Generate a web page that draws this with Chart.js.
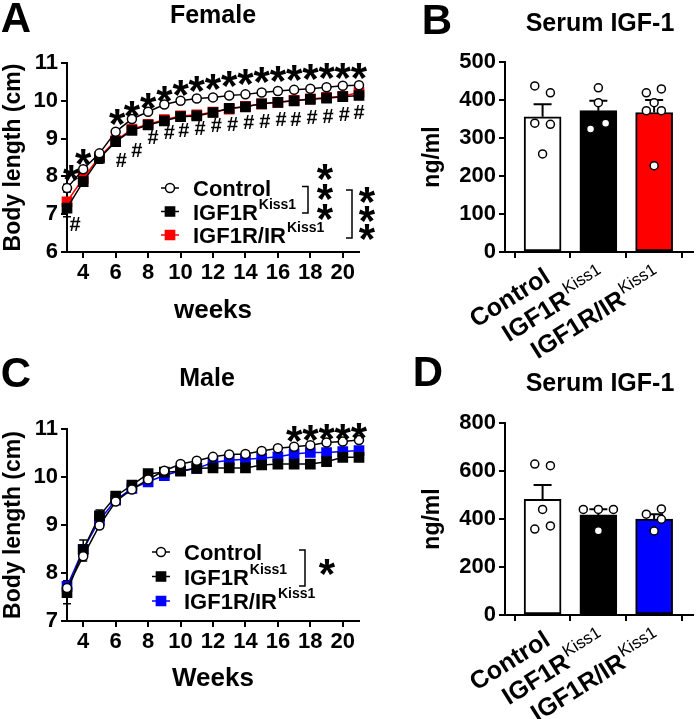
<!DOCTYPE html>
<html>
<head>
<meta charset="utf-8">
<script src="https://cdn.jsdelivr.net/npm/chart.js@4.4.1/dist/chart.umd.min.js"></script>
<style>
  html, body { margin: 0; padding: 0; background: #fff; }
  #page { position: relative; width: 698px; height: 719px; overflow: hidden;
          font-family: 'Liberation Sans', Arial, sans-serif; }
  canvas { position: absolute; left: 0; top: 0; }
  .lbl { position: absolute; font-weight: bold; line-height: 1; white-space: nowrap;
         transform: translate(-50%, -50%); color: #000; }
</style>
</head>
<body>
<div id="page">
  <canvas id="chartA" width="698" height="719"></canvas>
  <canvas id="chartB" width="698" height="719"></canvas>
  <canvas id="chartC" width="698" height="719"></canvas>
  <canvas id="chartD" width="698" height="719"></canvas>

  <div class="lbl" style="left:16px;top:18px;font-size:42px">A</div>
  <div class="lbl" style="left:213px;top:14px;font-size:25px">Female</div>
  <div class="lbl" style="left:437px;top:20px;font-size:42px">B</div>
  <div class="lbl" style="left:600px;top:22px;font-size:25px">Serum IGF-1</div>
  <div class="lbl" style="left:16px;top:373px;font-size:42px">C</div>
  <div class="lbl" style="left:207px;top:377px;font-size:25px">Male</div>
  <div class="lbl" style="left:428px;top:372px;font-size:42px">D</div>
  <div class="lbl" style="left:600px;top:382px;font-size:25px">Serum IGF-1</div>
</div>
<script>
const FONT = "'Liberation Sans', Arial, Helvetica, sans-serif";
Chart.defaults.font.family = FONT;
Chart.defaults.color = '#000';

const weeks     = [3, 4, 5, 6, 7, 8, 9, 10, 11, 12, 13, 14, 15, 16, 17, 18, 19, 20, 21];
const weekTicks = [4, 6, 8, 10, 12, 14, 16, 18, 20];

// A - female body length (cm)
const femaleControl    = [7.69, 8.19, 8.61, 9.18, 9.52, 9.71, 9.90, 10.00, 10.06, 10.09, 10.14, 10.17, 10.22, 10.26, 10.29, 10.32, 10.36, 10.40, 10.41];
const femaleIgf1r      = [7.16, 7.86, 8.48, 8.92, 9.22, 9.36, 9.47, 9.58, 9.60, 9.69, 9.80, 9.84, 9.92, 9.96, 10.00, 10.04, 10.07, 10.11, 10.14];
const femaleIgf1rIr    = [7.33, 7.95, 8.52, 8.95, 9.25, 9.38, 9.50, 9.60, 9.63, 9.70, 9.78, 9.85, 9.92, 9.96, 10.01, 10.05, 10.09, 10.12, 10.22];
const femaleControlSem = [0.10, 0.06, 0.05, 0.05, 0.05, 0.04, 0.04, 0.04, 0.04, 0.04, 0.04, 0.04, 0.04, 0.04, 0.04, 0.04, 0.04, 0.04, 0.04];
const femaleIgf1rSem   = [0.23, 0.12, 0.13, 0.08, 0.07, 0.05, 0.05, 0.05, 0.05, 0.05, 0.05, 0.05, 0.05, 0.05, 0.05, 0.05, 0.05, 0.05, 0.05];
const femaleIgf1rIrSem = [0.10, 0.10, 0.08, 0.06, 0.05, 0.05, 0.05, 0.05, 0.05, 0.05, 0.05, 0.05, 0.05, 0.05, 0.05, 0.05, 0.05, 0.05, 0.05];
const femaleStarWeeks  = [3.25, 4, 6.1, 7, 8, 9, 10, 11, 12, 13, 14, 15, 16, 17, 18, 19, 20, 21];
const femaleStarY      = [8.15, 8.57, 9.62, 9.84, 10.05, 10.24, 10.39, 10.50, 10.55, 10.63, 10.68, 10.73, 10.76, 10.79, 10.81, 10.84, 10.84, 10.84];
const femaleHashWeeks  = [3.5, 6.35, 7.3, 8.3, 9.3, 10.2, 11.2, 12.2, 13.2, 14.2, 15.2, 16.2, 17.1, 18.1, 19.1, 20.1, 21.0];
const femaleHashY      = [6.71, 8.39, 8.65, 9.00, 9.14, 9.18, 9.23, 9.31, 9.36, 9.40, 9.42, 9.47, 9.49, 9.54, 9.56, 9.60, 9.67];

// C - male body length (cm)
const maleControl    = [7.69, 8.35, 8.99, 9.49, 9.74, 9.95, 10.13, 10.27, 10.34, 10.42, 10.47, 10.48, 10.54, 10.60, 10.63, 10.66, 10.72, 10.74, 10.77];
const maleIgf1r      = [7.59, 8.49, 9.19, 9.60, 9.83, 10.07, 10.10, 10.12, 10.18, 10.19, 10.19, 10.19, 10.25, 10.27, 10.27, 10.27, 10.32, 10.41, 10.41];
const maleIgf1rIr    = [7.72, 8.49, 9.10, 9.52, 9.76, 9.90, 10.03, 10.13, 10.18, 10.30, 10.35, 10.37, 10.39, 10.42, 10.48, 10.51, 10.51, 10.53, 10.55];
const maleControlSem = [0.15, 0.10, 0.06, 0.05, 0.05, 0.04, 0.04, 0.04, 0.04, 0.04, 0.04, 0.04, 0.04, 0.04, 0.04, 0.04, 0.04, 0.04, 0.04];
const maleIgf1rSem   = [0.23, 0.20, 0.12, 0.06, 0.08, 0.06, 0.05, 0.05, 0.05, 0.05, 0.05, 0.05, 0.05, 0.05, 0.05, 0.05, 0.05, 0.05, 0.05];
const maleIgf1rIrSem = [0.10, 0.10, 0.07, 0.05, 0.05, 0.04, 0.04, 0.04, 0.04, 0.04, 0.04, 0.04, 0.04, 0.04, 0.04, 0.04, 0.04, 0.04, 0.04];
const maleStarWeeks  = [17, 18, 19, 20, 21];
const maleStarY      = [10.94, 10.97, 10.98, 10.99, 11.00];

// B, D - serum IGF-1 (ng/ml)
const groups   = ['Control', 'IGF1R', 'IGF1R/IR'];
const groupSup = ['', 'Kiss1', 'Kiss1'];
const femaleSerumMean   = [356, 372, 367];
const femaleSerumSem    = [33, 26, 33];
const femaleSerumPoints = [[437, 419, 339, 336, 258], [432, 393, 324, 339], [419, 429, 393, 372, 372, 227]];
const femaleSerumJitter = [[-0.14, 0.14, -0.14, 0.14, 0], [0, 0, -0.14, 0.13], [-0.14, 0.13, 0, -0.14, 0.13, 0]];
const maleSerumMean     = [482, 417, 400];
const maleSerumSem      = [60, 24, 20];
const maleSerumPoints   = [[629, 622, 440, 358, 371], [440, 440, 440, 351], [420, 442, 399, 350]];
const maleSerumJitter   = [[-0.14, 0.14, 0, -0.14, 0.14], [-0.27, 0, 0.27, 0], [-0.14, 0.13, 0.13, 0]];

const RED = '#ff0000';
const BLUE = '#0000ff';

function drawStar(ctx, x, y, size) {
  ctx.font = `bold ${size}px ${FONT}`;
  ctx.textAlign = 'center';
  ctx.textBaseline = 'alphabetic';
  ctx.fillText('*', x, y + size * 0.55);
}

function drawMarker(ctx, style, x, y, color, fill) {
  ctx.lineWidth = 1.5;
  ctx.strokeStyle = color;
  ctx.fillStyle = fill;
  ctx.beginPath();
  if (style === 'circle') ctx.arc(x, y, 4.5, 0, Math.PI * 2);
  else ctx.rect(x - 4.6, y - 4.6, 9.2, 9.2);
  ctx.fill();
  ctx.stroke();
}

function drawLegend(ctx, x0, y0, gap, items) {
  items.forEach((it, i) => {
    const y = y0 + i * gap;
    ctx.strokeStyle = it.color;
    ctx.lineWidth = 1.5;
    ctx.beginPath(); ctx.moveTo(x0 - 9, y); ctx.lineTo(x0 + 9, y); ctx.stroke();
    drawMarker(ctx, it.style, x0, y, it.color, it.fill);
    ctx.fillStyle = '#000';
    ctx.textAlign = 'left';
    ctx.textBaseline = 'alphabetic';
    ctx.font = `bold 22px ${FONT}`;
    ctx.fillText(it.label, x0 + 23, y + 8);
    if (it.sup) {
      const w = ctx.measureText(it.label).width;
      ctx.font = `bold 14px ${FONT}`;
      ctx.fillText(it.sup, x0 + 24 + w, y - 3);
    }
  });
}

function drawBracket(ctx, x, y1, y2) {
  ctx.strokeStyle = '#000';
  ctx.lineWidth = 1.5;
  ctx.beginPath();
  ctx.moveTo(x - 6, y1); ctx.lineTo(x, y1); ctx.lineTo(x, y2); ctx.lineTo(x - 6, y2);
  ctx.stroke();
}

function growthSet(label, vals, style, color, fill, order) {
  return {
    label,
    data: weeks.map((w, i) => ({ x: w, y: vals[i] })),
    borderColor: color,
    borderWidth: 1.5,
    pointStyle: style,
    pointRadius: style === 'circle' ? 4.5 : 6.5,
    pointBackgroundColor: fill,
    pointBorderColor: color,
    pointBorderWidth: 1.5,
    tension: 0,
    clip: false,
    order,
  };
}

function growthOptions(yMin, yMax, xTitle, pad, xHeight) {
  const grid = { drawOnChartArea: false, drawTicks: true, tickLength: 6, lineWidth: 2, color: '#000' };
  const border = { color: '#000', width: 2 };
  return {
    responsive: false,
    animation: false,
    layout: { padding: pad },
    plugins: { legend: { display: false }, tooltip: { enabled: false } },
    scales: {
      x: {
        type: 'linear', min: 3, max: 21,
        afterBuildTicks: (s) => { s.ticks = weekTicks.map(v => ({ value: v })); },
        afterFit: (s) => { s.height = xHeight; },
        grid, border,
        ticks: { font: { size: 22, weight: 'bold' }, padding: 2, maxRotation: 0, autoSkip: false },
        title: { display: true, text: xTitle, font: { size: 26, weight: 'bold' }, padding: 0 },
      },
      y: {
        min: yMin, max: yMax,
        afterFit: (s) => { s.width = 67; },
        grid, border,
        ticks: { stepSize: 1, font: { size: 22, weight: 'bold' }, padding: 3 },
        title: { display: true, text: 'Body length (cm)', font: { size: 23, weight: 'bold' }, padding: 0 },
      },
    },
  };
}

// error bars, significance marks, legend and brackets for the growth panels
function growthExtras(conf) {
  return {
    id: 'growthExtras',
    beforeDatasetsDraw(chart) {
      const { ctx } = chart;
      const xs = chart.scales.x, ys = chart.scales.y;
      ctx.save();
      conf.sems.forEach((sem, d) => {
        const ds = chart.data.datasets[d];
        ctx.strokeStyle = ds.borderColor;
        ctx.lineWidth = 1.5;
        ds.data.forEach((p, i) => {
          const x = xs.getPixelForValue(p.x);
          const y1 = ys.getPixelForValue(p.y - sem[i]);
          const y2 = ys.getPixelForValue(p.y + sem[i]);
          ctx.beginPath();
          ctx.moveTo(x, y1); ctx.lineTo(x, y2);
          ctx.moveTo(x - 4, y1); ctx.lineTo(x + 4, y1);
          ctx.moveTo(x - 4, y2); ctx.lineTo(x + 4, y2);
          ctx.stroke();
        });
      });
      ctx.restore();
    },
    afterDatasetsDraw(chart) {
      const { ctx, chartArea } = chart;
      const xs = chart.scales.x, ys = chart.scales.y;
      ctx.save();
      ctx.fillStyle = '#000';
      conf.starWeeks.forEach((w, i) => drawStar(ctx, xs.getPixelForValue(w), ys.getPixelForValue(conf.starY[i]), 42));
      (conf.hashWeeks || []).forEach((w, i) => {
        ctx.fillStyle = '#000';
        ctx.font = `bold 20px ${FONT}`;
        ctx.textAlign = 'center';
        ctx.textBaseline = 'middle';
        ctx.fillText('#', xs.getPixelForValue(w), ys.getPixelForValue(conf.hashY[i]));
      });
      const x0 = chartArea.left + conf.legendDx;
      const y0 = chartArea.top + conf.legendDy;
      drawLegend(ctx, x0, y0, conf.gap, conf.legend);
      conf.brackets.forEach(b => drawBracket(ctx, x0 + b.dx, y0 + b.y1, y0 + b.y2));
      ctx.fillStyle = '#000';
      conf.bracketStars.forEach(s => s.dy.forEach(dy => drawStar(ctx, x0 + s.dx, y0 + dy, 42)));
      ctx.restore();
    },
  };
}

new Chart(document.getElementById('chartA'), {
  type: 'line',
  data: {
    datasets: [
      growthSet('Control', femaleControl, 'circle', '#000', '#fff', 0),
      growthSet('IGF1R Kiss1', femaleIgf1r, 'rect', '#000', '#000', 1),
      growthSet('IGF1R/IR Kiss1', femaleIgf1rIr, 'rect', RED, RED, 2),
    ],
  },
  options: growthOptions(6, 11, 'weeks', { left: 0, top: 63, right: 339, bottom: 393 }, 74),
  plugins: [growthExtras({
    sems: [femaleControlSem, femaleIgf1rSem, femaleIgf1rIrSem],
    starWeeks: femaleStarWeeks, starY: femaleStarY,
    hashWeeks: femaleHashWeeks, hashY: femaleHashY,
    legendDx: 103, legendDy: 125, gap: 23.5,
    legend: [
      { label: 'Control', sup: '', style: 'circle', color: '#000', fill: '#fff' },
      { label: 'IGF1R', sup: 'Kiss1', style: 'rect', color: '#000', fill: '#000' },
      { label: 'IGF1R/IR', sup: 'Kiss1', style: 'rect', color: RED, fill: RED },
    ],
    brackets: [{ dx: 138, y1: -1.5, y2: 25 }, { dx: 182, y1: 2, y2: 50 }],
    bracketStars: [{ dx: 155, dy: [-18, 2, 22] }, { dx: 197, dy: [5, 24, 42] }],
  })],
});

new Chart(document.getElementById('chartC'), {
  type: 'line',
  data: {
    datasets: [
      growthSet('Control', maleControl, 'circle', '#000', '#fff', 0),
      growthSet('IGF1R Kiss1', maleIgf1r, 'rect', '#000', '#000', 1),
      growthSet('IGF1R/IR Kiss1', maleIgf1rIr, 'rect', BLUE, BLUE, 2),
    ],
  },
  options: growthOptions(7, 11, 'Weeks', { left: 0, top: 429, right: 339, bottom: 25 }, 73),
  plugins: [growthExtras({
    sems: [maleControlSem, maleIgf1rSem, maleIgf1rIrSem],
    starWeeks: maleStarWeeks, starY: maleStarY,
    legendDx: 94, legendDy: 123, gap: 24.5,
    legend: [
      { label: 'Control', sup: '', style: 'circle', color: '#000', fill: '#fff' },
      { label: 'IGF1R', sup: 'Kiss1', style: 'rect', color: '#000', fill: '#000' },
      { label: 'IGF1R/IR', sup: 'Kiss1', style: 'rect', color: BLUE, fill: BLUE },
    ],
    brackets: [{ dx: 144, y1: -2, y2: 34 }],
    bracketStars: [{ dx: 166, dy: [13] }],
  })],
});

// serum panels: bars with SEM, individual animals, rotated group labels
function serumExtras(sems) {
  return {
    id: 'serumExtras',
    afterDatasetDraw(chart, args) {
      if (args.index !== 0) return;
      const { ctx } = chart;
      const xs = chart.scales.x, ys = chart.scales.y;
      const means = chart.data.datasets[0].data;
      ctx.save();
      ctx.strokeStyle = '#000';
      ctx.lineWidth = 2;
      means.forEach((p, i) => {
        const x = xs.getPixelForValue(p.x);
        const yTop = ys.getPixelForValue(p.y + sems[i]);
        ctx.beginPath();
        ctx.moveTo(x, ys.getPixelForValue(p.y)); ctx.lineTo(x, yTop);
        ctx.moveTo(x - 9, yTop); ctx.lineTo(x + 9, yTop);
        ctx.stroke();
      });
      ctx.restore();
    },
    afterDraw(chart) {
      const { ctx, chartArea } = chart;
      const xs = chart.scales.x;
      ctx.save();
      ctx.fillStyle = '#000';
      ctx.textAlign = 'left';
      ctx.textBaseline = 'alphabetic';
      groups.forEach((g, i) => {
        ctx.save();
        ctx.translate(xs.getPixelForValue(i) + 9, chartArea.bottom + 29);
        ctx.rotate(-32 * Math.PI / 180);
        ctx.font = `17px ${FONT}`;
        const ws = groupSup[i] ? ctx.measureText(groupSup[i]).width + 1 : 0;
        ctx.font = `bold 25px ${FONT}`;
        const wm = ctx.measureText(g).width;
        ctx.fillText(g, -(wm + ws), 0);
        if (groupSup[i]) {
          ctx.font = `17px ${FONT}`;
          ctx.fillText(groupSup[i], -ws + 1, -10);
        }
        ctx.restore();
      });
      ctx.restore();
    },
  };
}

function serumChart(id, means, sems, points, jitter, color, yMax, yStep, pad) {
  const grid = { drawOnChartArea: false, drawTicks: true, tickLength: 6, lineWidth: 2, color: '#000' };
  const border = { color: '#000', width: 2 };
  const dots = [];
  points.forEach((arr, g) => arr.forEach((v, j) => dots.push({ x: g + jitter[g][j], y: v })));
  return new Chart(document.getElementById(id), {
    type: 'bar',
    data: {
      datasets: [
        {
          type: 'bar',
          data: means.map((m, i) => ({ x: i, y: m })),
          backgroundColor: ['#fff', '#000', color],
          borderColor: '#000',
          borderWidth: 2,
          borderSkipped: false,
          barThickness: 37,
          order: 2,
        },
        {
          type: 'scatter',
          data: dots,
          pointRadius: 4,
          pointBackgroundColor: '#fff',
          pointBorderColor: '#000',
          pointBorderWidth: 1.5,
          clip: false,
          order: 0,
        },
      ],
    },
    options: {
      responsive: false,
      animation: false,
      layout: { padding: pad },
      plugins: { legend: { display: false }, tooltip: { enabled: false } },
      scales: {
        x: {
          type: 'linear', min: -0.674, max: 2.688, offset: false,
          afterBuildTicks: (s) => { s.ticks = groups.map((g, i) => ({ value: i })); },
          afterFit: (s) => { s.height = 10; },
          ticks: { display: false },
          grid, border,
        },
        y: {
          min: 0, max: yMax,
          afterFit: (s) => { s.width = 86; },
          ticks: { stepSize: yStep, font: { size: 22, weight: 'bold' }, padding: 3 },
          grid, border,
          title: { display: true, text: 'ng/ml', font: { size: 23, weight: 'bold' }, padding: 0 },
        },
      },
    },
    plugins: [serumExtras(sems)],
  });
}

serumChart('chartB', femaleSerumMean, femaleSerumSem, femaleSerumPoints, femaleSerumJitter, RED, 500, 100,
  { left: 419, top: 62, right: 0, bottom: 457 });
serumChart('chartD', maleSerumMean, maleSerumSem, maleSerumPoints, maleSerumJitter, BLUE, 800, 200,
  { left: 419, top: 423, right: 0, bottom: 94 });
</script>
</body>
</html>
